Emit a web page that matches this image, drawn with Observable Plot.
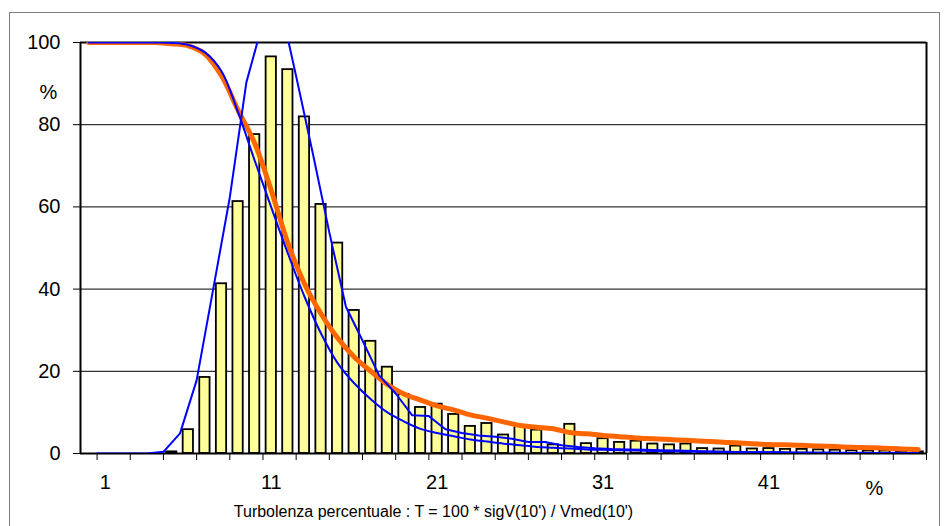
<!DOCTYPE html>
<html>
<head>
<meta charset="utf-8">
<script src="https://cdn.jsdelivr.net/npm/d3@7"></script>
<script src="https://cdn.jsdelivr.net/npm/@observablehq/plot@0.6"></script>
<style>
  html, body { margin: 0; padding: 0; background: #fff; }
  #wrap { position: relative; width: 951px; height: 526px; overflow: hidden; }
  #frame { position: absolute; left: 9px; top: 12px; width: 931px; height: 530px; border: 1px solid #808080; box-sizing: border-box; pointer-events: none; }
  #chart { position: absolute; left: 0; top: 0; }
</style>
</head>
<body>
<div id="wrap"><div id="frame"></div><div id="chart"></div></div>
<script>
// Categories (class of turbulence, %)
const categories = [0,1,2,3,4,5,6,7,8,9,10,11,12,13,14,15,16,17,18,19,20,21,22,23,24,25,26,27,28,29,30,31,32,33,34,35,36,37,38,39,40,41,42,43,44,45,46,47,48,49,50];
// Histogram bars
const barValues = [0,0,0,0,0,0.4,5.8,18.5,41.3,61.3,77.6,96.5,93.4,81.9,60.6,51.2,34.8,27.3,21.0,14.4,11.2,12.0,9.5,6.6,7.3,4.5,6.6,5.7,2.1,7.1,2.4,3.6,2.7,3.0,2.3,2.1,2.3,1.2,1.1,1.8,1.1,1.2,1.0,1.0,0.9,0.8,0.7,0.6,0.6,0.5,0.4];
// Orange: empirical exceedance
const orangeValues = [100,100,100,100,100,99.7,99.2,97.2,91.9,83.5,75.5,64.0,51.2,41.3,34.0,28.1,23.5,20.0,16.8,14.5,13.0,11.6,10.6,9.4,8.6,7.7,6.8,6.4,6.0,5.1,4.8,4.4,4.1,3.8,3.6,3.4,3.2,3.0,2.8,2.6,2.4,2.2,2.1,2.0,1.8,1.7,1.5,1.4,1.3,1.1,1.0];
// Blue: fitted exceedance
const fitValues = [100,100,100,100,100,99.9,99.4,97.6,93.0,83.0,71.3,59.9,48.7,38.2,29.2,22.0,17.1,13.2,10.0,7.8,6.0,5.0,4.2,3.4,2.9,2.4,2.0,1.6,1.4,1.2,1.0,0.9,0.8,0.7,0.6,0.55,0.5,0.45,0.4,0.35,0.3,0.3,0.25,0.25,0.2,0.2,0.2,0.15,0.15,0.15,0.1];
// Blue: frequency curve at class boundaries
const bellPositions = [0.5,1.5,2.5,3.5,4.5,5.5,6.5,7.5,8.5,9.5,10.5,11.5,12.5,13.5,14.5,15.5,16.5,17.5,18.5,19.5,20.5,21.5,22.5,23.5,24.5,25.5,26.5,27.5,28.5,29.5,30.5,31.5,32.5,33.5,34.5,35.5,36.5,37.5,38.5,39.5,40.5,41.5,42.5,43.5,44.5,45.5,46.5,47.5,48.5,49.5];
const bellValues = [0,0,0,0,0.4,4.9,17.8,40,62.3,90.3,105,110,91.8,73.1,53.8,35.7,27.5,19,14.6,9.3,9.1,5.9,5.0,4.4,4.1,3.6,2.8,2.8,2.0,1.6,1.3,1.1,1.0,0.9,0.8,0.7,0.6,0.5,0.4,0.3,0.3,0.3,0.2,0.2,0.2,0.1,0.1,0.1,0.1,0.1];
// Axis ticks
const yTicks = [0,20,40,60,80,100];
const gridValues = [20,40,60,80];
const xLabelTicks = [1,11,21,31,41];
const xTickMarks = [0.5,2.5,4.5,6.5,8.5,10.5,12.5,14.5,16.5,18.5,20.5,22.5,24.5,26.5,28.5,30.5,32.5,34.5,36.5,38.5,40.5,42.5,44.5,46.5,48.5,50.5];
const xDomain = [-0.5, 50.5];
const xTitle = "Turbolenza percentuale : T = 100 * sigV(10') / Vmed(10')";

const bars = categories.map((c, i) => ({c, v: barValues[i]})).filter(d => d.v > 0);
const orange = categories.map((c, i) => ({c, v: orangeValues[i]}));
const fit = categories.map((c, i) => ({c, v: fitValues[i]}));
const bell = bellPositions.map((c, i) => ({c, v: bellValues[i]}));
const halfBar = 0.31;

const chart = Plot.plot({
  width: 951,
  height: 526,
  marginLeft: 80,
  marginRight: 25,
  marginTop: 42,
  marginBottom: 73,
  x: {type: "linear", domain: xDomain, axis: null},
  y: {domain: [0, 100], axis: null},
  style: {fontFamily: "'Liberation Sans', Arial, sans-serif", fontSize: "20px", background: "transparent", color: "#000"},
  marks: [
    Plot.ruleY(gridValues, {stroke: "#000", strokeWidth: 1}),
    Plot.rectY(bars, {x1: d => d.c - halfBar, x2: d => d.c + halfBar, y: "v", fill: "#FFFF99", stroke: "#000", strokeWidth: 1.8}),
    Plot.ruleY([0], {stroke: "#000", strokeWidth: 2}),
    Plot.ruleY([100], {stroke: "#000", strokeWidth: 2}),
    Plot.ruleX([xDomain[0], xDomain[1]], {stroke: "#000", strokeWidth: 2}),
    Plot.axisY({ticks: yTicks, tickSize: 7, tickPadding: 13, fontSize: 20, label: null, stroke: "#000"}),
    Plot.axisX({ticks: xTickMarks, tickSize: 7, tickFormat: () => "", label: null, stroke: "#000"}),
    Plot.axisX({ticks: xLabelTicks, tickSize: 0, tickPadding: 21, fontSize: 20, label: null}),
    Plot.line(orange, {x: "c", y: "v", stroke: "#FF6600", strokeWidth: 5, curve: "catmull-rom", clip: true}),
    Plot.line(fit, {x: "c", y: "v", stroke: "#0000FF", strokeWidth: 2, curve: "catmull-rom", clip: true}),
    Plot.line(bell, {x: "c", y: "v", stroke: "#0000FF", strokeWidth: 2, clip: true}),
    Plot.text(["%"], {frameAnchor: "top-left", dx: -32, dy: 42, fontSize: 20, textAnchor: "middle"}),
    Plot.text(["%"], {frameAnchor: "bottom-right", dx: -52, dy: 41, fontSize: 20, textAnchor: "middle"}),
    Plot.text([xTitle], {frameAnchor: "bottom", dx: -70, dy: 63, fontSize: 16, textAnchor: "middle"})
  ]
});
document.getElementById("chart").appendChild(chart);
</script>
</body>
</html>
